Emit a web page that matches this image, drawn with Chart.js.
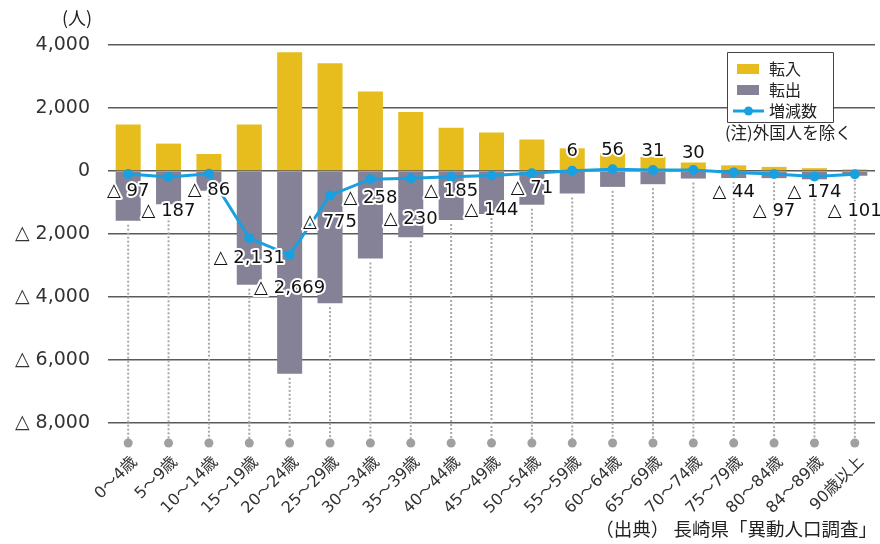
<!DOCTYPE html>
<html lang="ja">
<head>
<meta charset="utf-8">
<title>年齢別 転入・転出・増減数</title>
<script src="https://cdn.jsdelivr.net/npm/chart.js@4"></script>
<style>
  html, body { margin: 0; padding: 0; background: #fff; }
  #wrap { width: 880px; height: 544px; position: relative; }
</style>
</head>
<body>
<div id="wrap"><canvas id="migrationChart"></canvas></div>
<script>
// Data
const ageGroups = ['0～4歳', '5～9歳', '10～14歳', '15～19歳', '20～24歳', '25～29歳', '30～34歳',
    '35～39歳', '40～44歳', '45～49歳', '50～54歳', '55～59歳', '60～64歳', '65～69歳',
    '70～74歳', '75～79歳', '80～84歳', '84～89歳', '90歳以上'];
const moveIn = [1480, 870, 540, 1480, 3770, 3420, 2520, 1870, 1370, 1220, 1000, 720, 560, 450, 270, 180, 130, 90, 50];
const moveOut = [-1577, -1057, -626, -3611, -6439, -4195, -2778, -2100, -1555, -1364, -1071, -714, -504, -419, -240, -224, -227, -264, -151];
const netChange = [-97, -187, -86, -2131, -2669, -775, -258, -230, -185, -144, -71, 6, 56, 31, 30, -44, -97, -174, -101];
const yTicks = [4000, 2000, 0, -2000, -4000, -6000, -8000];

const FONT = "'Noto Sans CJK JP', 'Noto Sans', sans-serif";
const NUM_FONT = "'DejaVu Sans', sans-serif";
const LABEL_FONT = "'DejaVu Sans', 'Noto Sans CJK JP', sans-serif";
const YELLOW = '#E6BD1C';
const GREY = '#858196';
const BLUE = '#18A0E0';

function fmt(v) {
    const s = Math.abs(v).toLocaleString('en-US');
    return v < 0 ? '△ ' + s : s;
}

// label offsets below/above each point of the line
const labelDy = [17, 34, 17, 20, 33, 27, 19, 41, 15, 35, 15, -19, -19, -19, -17, 20, 37, 16, 37];

// dotted drop lines under every category
const dropLines = {
    id: 'dropLines',
    beforeDatasetsDraw(chart) {
        const ctx = chart.ctx;
        const area = chart.chartArea;
        const bars = chart.getDatasetMeta(1).data;
        ctx.save();
        bars.forEach(bar => {
            ctx.strokeStyle = '#a8a8a8';
            ctx.lineWidth = 2;
            ctx.setLineDash([2, 2]);
            ctx.beginPath();
            ctx.moveTo(bar.x, bar.y + 4);
            ctx.lineTo(bar.x, area.bottom + 16);
            ctx.stroke();
            ctx.setLineDash([]);
            ctx.fillStyle = '#a0a0a0';
            ctx.beginPath();
            ctx.arc(bar.x, area.bottom + 20, 4.5, 0, Math.PI * 2);
            ctx.fill();
        });
        ctx.restore();
    }
};

// value labels, category labels, legend box and notes
const extras = {
    id: 'extras',
    afterDatasetsDraw(chart) {
        const ctx = chart.ctx;
        const area = chart.chartArea;
        const pts = chart.getDatasetMeta(2).data;
        ctx.save();
        ctx.font = '18px ' + NUM_FONT;
        ctx.textAlign = 'center';
        ctx.textBaseline = 'middle';
        ctx.lineJoin = 'round';
        pts.forEach((p, i) => {
            const t = fmt(netChange[i]);
            const y = p.y + labelDy[i];
            ctx.strokeStyle = '#fff';
            ctx.lineWidth = 4;
            ctx.strokeText(t, p.x, y);
            ctx.fillStyle = '#111';
            ctx.fillText(t, p.x, y);
        });

        // rotated category labels
        const xs = chart.scales.x;
        ctx.font = '16px ' + LABEL_FONT;
        ctx.fillStyle = '#333';
        ctx.textAlign = 'right';
        ctx.textBaseline = 'top';
        ageGroups.forEach((lab, i) => {
            ctx.save();
            ctx.translate(xs.getPixelForValue(i) + 1, area.bottom + 31);
            ctx.rotate(-Math.PI / 4);
            ctx.fillText(lab, 0, 0);
            ctx.restore();
        });

        // legend
        ctx.textBaseline = 'middle';
        ctx.fillStyle = '#fff';
        ctx.fillRect(727, 52, 107, 71);
        ctx.strokeStyle = '#444';
        ctx.lineWidth = 1;
        ctx.strokeRect(727.5, 52.5, 106, 70);
        ctx.fillStyle = YELLOW;
        ctx.fillRect(737, 64, 22, 10);
        ctx.fillStyle = GREY;
        ctx.fillRect(737, 85, 22, 10);
        ctx.strokeStyle = BLUE;
        ctx.lineWidth = 3;
        ctx.beginPath();
        ctx.moveTo(733, 111);
        ctx.lineTo(764, 111);
        ctx.stroke();
        ctx.fillStyle = BLUE;
        ctx.beginPath();
        ctx.arc(748.5, 111, 4.5, 0, Math.PI * 2);
        ctx.fill();
        ctx.fillStyle = '#222';
        ctx.font = '16px ' + FONT;
        ctx.textAlign = 'left';
        ctx.fillText('転入', 769, 69);
        ctx.fillText('転出', 769, 90);
        ctx.fillText('増減数', 769, 111);

        ctx.font = '16.5px ' + FONT;
        ctx.fillText('(注)外国人を除く', 725, 133);

        ctx.font = '18px ' + FONT;
        ctx.fillText('(人)', 62, 18);

        ctx.font = '18.5px ' + FONT;
        ctx.textAlign = 'right';
        ctx.fillText('（出典） 長崎県「異動人口調査」', 877, 529);
        ctx.restore();
    }
};

new Chart(document.getElementById('migrationChart').getContext('2d'), {
    data: {
        labels: ageGroups,
        datasets: [
            {
                type: 'bar',
                label: '転入',
                data: moveIn,
                backgroundColor: YELLOW,
                grouped: false,
                barPercentage: 0.62,
                categoryPercentage: 1,
                order: 2
            },
            {
                type: 'bar',
                label: '転出',
                data: moveOut,
                backgroundColor: GREY,
                grouped: false,
                barPercentage: 0.62,
                categoryPercentage: 1,
                order: 2
            },
            {
                type: 'line',
                label: '増減数',
                data: netChange,
                borderColor: BLUE,
                backgroundColor: BLUE,
                borderWidth: 3,
                pointRadius: 5,
                pointBackgroundColor: BLUE,
                pointBorderWidth: 0,
                tension: 0,
                order: 0
            }
        ]
    },
    options: {
        responsive: true,
        maintainAspectRatio: false,
        animation: false,
        layout: { padding: { top: 45, right: 5, left: 0, bottom: 0 } },
        plugins: {
            legend: { display: false },
            tooltip: { enabled: false }
        },
        scales: {
            x: {
                grid: { display: false, drawTicks: false },
                border: { display: false },
                ticks: { display: false },
                afterFit(scale) { scale.height = 121; }
            },
            y: {
                min: -8000,
                max: 4000,
                afterBuildTicks(scale) { scale.ticks = yTicks.map(v => ({ value: v })); },
                grid: { color: '#5a5a5a', lineWidth: 1.5, drawTicks: false },
                border: { display: false },
                ticks: {
                    color: '#333',
                    font: { family: NUM_FONT, size: 19 },
                    padding: 18,
                    callback: v => fmt(v)
                },
                afterFit(scale) { scale.width = 108; }
            }
        }
    },
    plugins: [dropLines, extras]
});
</script>
</body>
</html>
